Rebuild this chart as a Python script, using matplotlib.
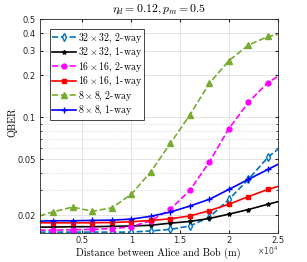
import numpy as np
import matplotlib.pyplot as plt
from matplotlib.ticker import FixedLocator, NullFormatter, FixedFormatter

plt.rcParams['mathtext.fontset'] = 'cm'
plt.rcParams['font.family'] = ['cmr10', 'DejaVu Serif']

# distance (m); first/last points are the axis edges, markers every 2000 m
distance = [600, 2000, 4000, 6000, 8000, 10000, 12000, 14000, 16000,
            18000, 20000, 22000, 24000, 25000]

qber_32_2way = [0.0151, 0.0151, 0.0151, 0.0151, 0.0151, 0.0151, 0.0154, 0.0158,
                0.0167, 0.0193, 0.0259, 0.036, 0.0518, 0.059]
qber_32_1way = [0.0164, 0.0164, 0.0165, 0.0165, 0.0166, 0.0167, 0.0169, 0.0175,
                0.018, 0.0189, 0.0203, 0.0219, 0.0239, 0.0249]
qber_16_2way = [0.0156, 0.0156, 0.0157, 0.0158, 0.016, 0.0165, 0.0182, 0.022,
                0.030, 0.048, 0.083, 0.128, 0.177, 0.196]
qber_16_1way = [0.0176, 0.0176, 0.0176, 0.0176, 0.0177, 0.0179, 0.0183, 0.0188,
                0.0197, 0.0215, 0.0239, 0.0271, 0.0305, 0.032]
qber_8_2way = [0.0197, 0.0211, 0.0228, 0.0213, 0.0225, 0.0281, 0.0408, 0.065,
               0.104, 0.175, 0.254, 0.328, 0.378, 0.39]
qber_8_1way = [0.0181, 0.0182, 0.0182, 0.0183, 0.0184, 0.0187, 0.0196, 0.021,
               0.0232, 0.0259, 0.0305, 0.036, 0.0424, 0.046]

labels = [r'$32\times32$, 2-way', r'$32\times32$, 1-way',
          r'$16\times16$, 2-way', r'$16\times16$, 1-way',
          r'$8\times8$, 2-way', r'$8\times8$, 1-way']

xticks = [5000, 10000, 15000, 20000, 25000]
xticklabels = ['0.5', '1', '1.5', '2', '2.5']
yticks = [0.02, 0.05, 0.1, 0.2, 0.3, 0.4, 0.5]
yticklabels = ['0.02', '0.05', '0.1', '0.2', '0.3', '0.4', '0.5']

fig = plt.figure(figsize=(3.07, 2.62), dpi=100)
ax = fig.add_axes([0.1287, 0.111, 0.776, 0.8146])

mk = list(range(1, 13))
ax.plot(distance, qber_32_2way, '--', color='#0072BD', marker='d', ms=4,
        mfc='white', mew=1, markevery=mk, lw=1.2, label=labels[0])
ax.plot(distance, qber_32_1way, '-', color='black', marker='*', ms=3,
        markevery=mk, lw=1.2, label=labels[1])
ax.plot(distance, qber_16_2way, '--', color='#FF00FF', marker='o', ms=3.5,
        markevery=mk, lw=1.2, label=labels[2])
ax.plot(distance, qber_16_1way, '-', color='red', marker='s', ms=3.5,
        markevery=mk, lw=1.2, label=labels[3])
ax.plot(distance, qber_8_2way, '--', color='#77AC30', marker='^', ms=4.5,
        markevery=mk, lw=1.2, label=labels[4])
ax.plot(distance, qber_8_1way, '-', color='blue', marker='+', ms=4.5,
        markevery=mk, lw=1.2, label=labels[5])

ax.set_yscale('log')
ax.set_xlim(600, 25000)
ax.set_ylim(0.0149, 0.5)

ax.xaxis.set_major_locator(FixedLocator(xticks))
ax.xaxis.set_major_formatter(FixedFormatter(xticklabels))
ax.yaxis.set_major_locator(FixedLocator(yticks))
ax.yaxis.set_major_formatter(FixedFormatter(yticklabels))
ax.yaxis.set_minor_locator(FixedLocator([0.03, 0.04, 0.06, 0.07, 0.08, 0.09]))
ax.yaxis.set_minor_formatter(NullFormatter())
ax.xaxis.set_minor_locator(FixedLocator([]))

ax.tick_params(which='both', direction='in', top=True, right=True,
               labelsize=6, colors='#262626', length=2.5, pad=2.5,
               labelfontfamily='DejaVu Sans')
ax.tick_params(which='minor', length=1.5)
for s in ax.spines.values():
    s.set_color('#262626')
    s.set_linewidth(0.6)

ax.grid(True, which='major', color='#e0e0e0', lw=0.6)
ax.grid(True, which='minor', axis='y', color='#d0d0d0', lw=0.6, ls=':')
ax.set_axisbelow(True)

ax.set_title(r'$\eta_d = 0.12, p_m = 0.5$', fontsize=8.5, pad=5)
ax.set_xlabel('Distance between Alice and Bob (m)', fontsize=7.3, va='center')
ax.xaxis.set_label_coords(0.5, -0.098)
ax.set_ylabel('QBER', fontsize=7.3, va='center')
ax.yaxis.set_label_coords(-0.112, 0.52)

ax.text(1.0, -0.085, r'$\times10^{4}$', transform=ax.transAxes, ha='right',
        va='center', fontsize=5.5, color='#444444', math_fontfamily='dejavusans')

leg = ax.legend(loc='upper left', bbox_to_anchor=(0.044, 0.955), fontsize=7.1,
                handlelength=2.4, handletextpad=0.15, borderpad=0.25,
                labelspacing=0.12, fancybox=False, framealpha=1,
                edgecolor='#262626', borderaxespad=0)
leg.get_frame().set_linewidth(0.6)

plt.savefig('out.png', dpi=100)
